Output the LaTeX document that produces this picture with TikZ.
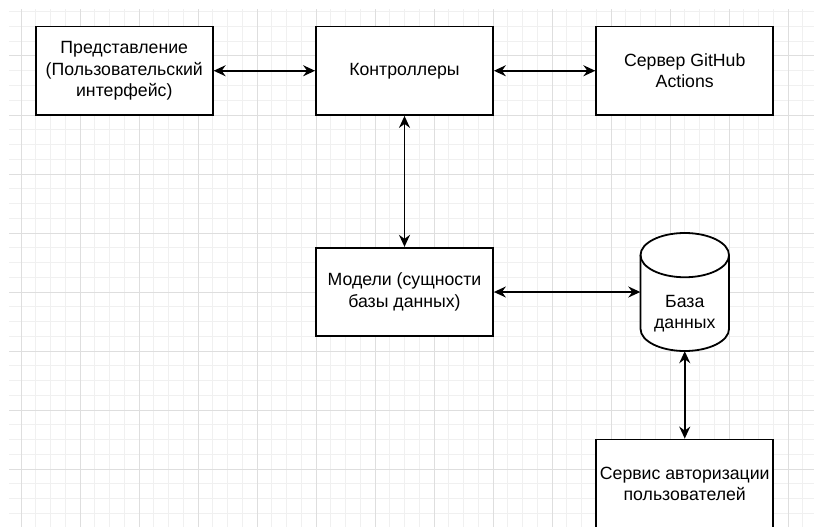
\documentclass[tikz,border=0pt]{standalone}
\usepackage{fontspec}
\setmainfont{Liberation Sans}
\usetikzlibrary{arrows.meta}
\begin{document}
\begin{tikzpicture}[x=1pt,y=-1pt,
  txt/.style={font=\fontsize{17.7}{21.2}\selectfont, align=center, text=black},
  box/.style={txt, draw=black, line width=1.8pt, fill=white, minimum width=177pt, minimum height=88.5pt, inner sep=0pt},
  cyl/.style={draw=black, line width=1.8pt, fill=white},
  link/.style={line width=1.8pt, {Stealth[length=12pt,width=11pt,inset=4pt]}-{Stealth[length=12pt,width=11pt,inset=4pt]}},
  minorgrid/.style={draw=black!6, line width=1pt},
  majorgrid/.style={draw=black!13, line width=1pt}]
\useasboundingbox (0,0) rectangle (814,527);
\fill[white] (0,0) rectangle (814,527);
% grid
\begin{scope}
\clip (9,10) rectangle (814,527);
\foreach \i in {0,...,53} { \draw[minorgrid] ({21+14.75*\i},0) -- ({21+14.75*\i},527); }
\foreach \j in {-3,...,31} { \draw[minorgrid] (0,{56+14.75*\j}) -- (814,{56+14.75*\j}); }
\foreach \i in {0,...,13} { \draw[majorgrid] ({21+59*\i},0) -- ({21+59*\i},527); }
\foreach \j in {0,...,8} { \draw[majorgrid] (0,{56+59*\j}) -- (814,{56+59*\j}); }
\end{scope}
% boxes
\node[box] (view) at (124.25,70.75) {Представление\\(Пользовательский\\интерфейс)};
\node[box] (ctrl) at (404.5,70.75) {Контроллеры};
\node[box] (gh) at (684.75,70.75) {Сервер GitHub\\Actions};
\node[box] (model) at (404.5,292) {Модели (сущности\\базы данных)};
\node[box] (auth) at (684.75,483.75) {Сервис авторизации\\пользователей};
% database cylinder
\node[minimum width=88.5pt, minimum height=118pt, inner sep=0pt] (db) at (684.75,292) {};
\draw[cyl] (640.5,255.125) -- (640.5,328.875)
  arc[start angle=180, end angle=0, x radius=44.25, y radius=22.125]
  -- (729,255.125)
  arc[start angle=0, end angle=-180, x radius=44.25, y radius=22.125] -- cycle;
\draw[cyl, fill=none] (640.5,255.125) arc[start angle=180, end angle=0, x radius=44.25, y radius=22.125];
\node[txt] (dblabel) at (684.75,313.5) {База\\данных};
% connectors
\draw[link] (view.east) -- (ctrl.west);
\draw[link] (ctrl.east) -- (gh.west);
\draw[link] (ctrl.south) -- (model.north);
\draw[link] (model.east) -- (db.west);
\draw[link] (db.south) -- (auth.north);
\end{tikzpicture}
\end{document}
